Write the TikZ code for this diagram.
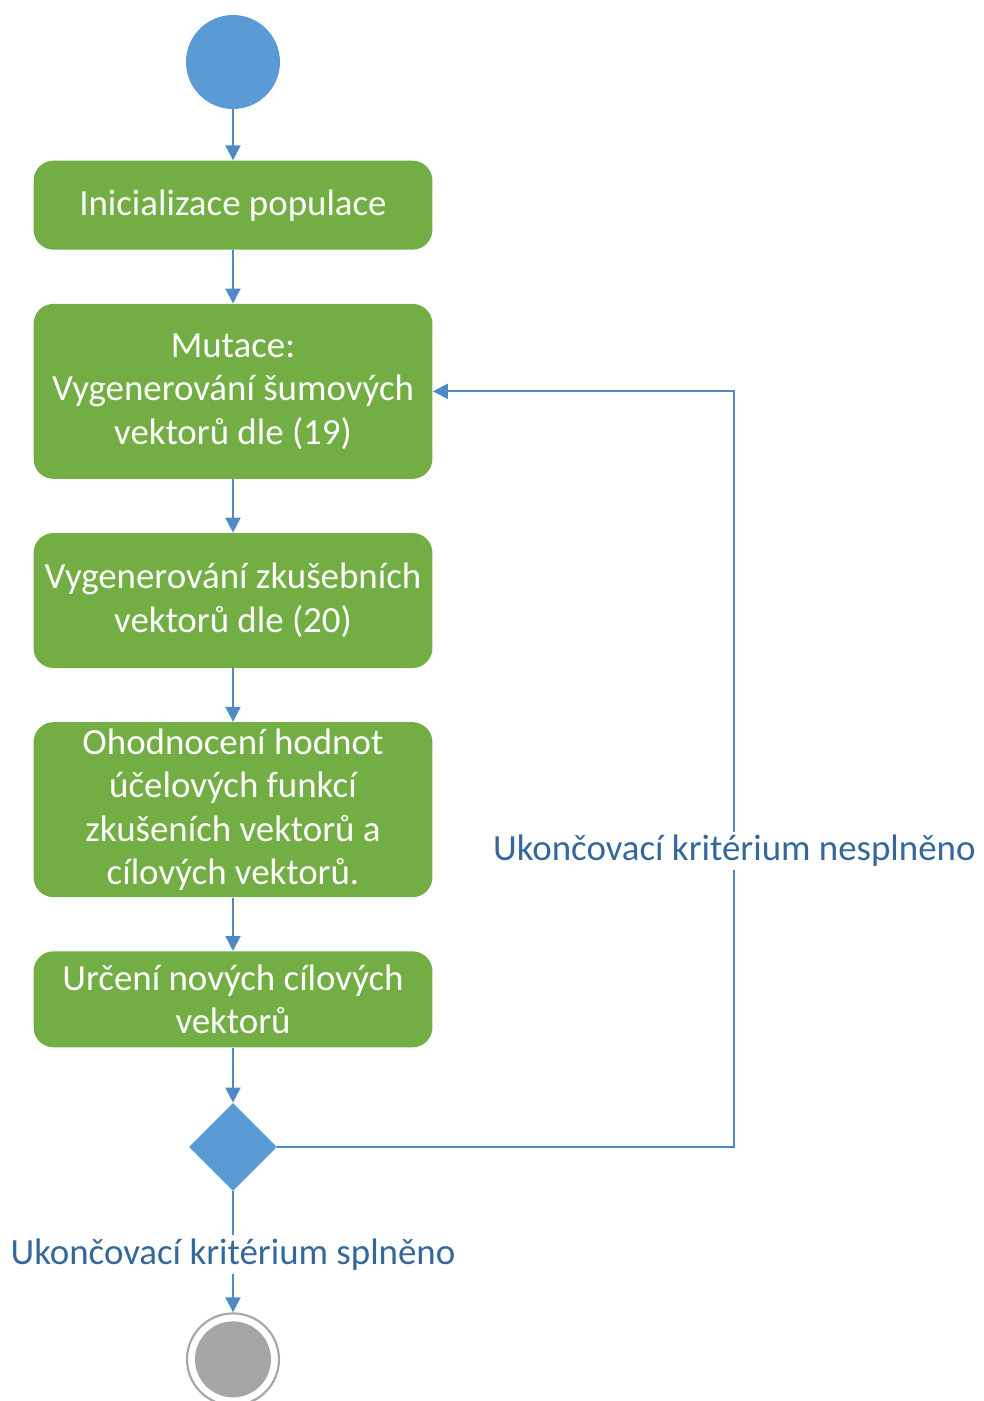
\documentclass[tikz,border=0pt]{standalone}
\usepackage{fontspec}
\setmainfont{Carlito}
\usetikzlibrary{shapes.geometric, positioning, arrows.meta}

\definecolor{actgreen}{RGB}{114,174,67}
\definecolor{actblue}{RGB}{91,155,213}
\definecolor{linkblue}{RGB}{79,138,198}
\definecolor{labelblue}{RGB}{52,103,156}
\definecolor{endgray}{RGB}{166,166,166}

\tikzset{
  activity/.style={rectangle, rounded corners=0.4cm, fill=actgreen, text=white,
    minimum width=7.98cm, align=center, inner sep=2pt,
    font=\fontsize{21}{24.8}\selectfont},
  flow/.style={draw=linkblue, line width=1.1pt,
    -{Triangle[length=0.3cm, width=0.3cm]}},
  guard/.style={fill=white, text=labelblue, inner sep=2pt,
    font=\fontsize{21}{24.8}\selectfont}
}

\begin{document}
\begin{tikzpicture}[x=0.02cm, y=-0.02cm]
    \useasboundingbox (0,0) rectangle (984,1401);

    \node[circle, fill=actblue, minimum size=1.88cm, inner sep=0pt] (start) at (233,62) {};
    \node[activity, minimum height=1.78cm, below=1.02cm of start] (init) {Inicializace populace};
    \node[activity, minimum height=3.5cm, below=1.07cm of init] (mut)
      {Mutace:\\Vygenerování šumových\\vektorů dle (19)};
    \node[activity, minimum height=2.7cm, below=1.07cm of mut] (trial)
      {Vygenerování zkušebních\\vektorů dle (20)};
    \node[activity, minimum height=3.5cm, below=1.07cm of trial] (eval)
      {Ohodnocení hodnot\\účelových funkcí\\zkušeních vektorů a\\cílových vektorů.};
    \node[activity, minimum height=1.92cm, below=1.07cm of eval] (select)
      {Určení nových cílových\\vektorů};
    \node[diamond, aspect=1, fill=actblue, minimum size=1.76cm, inner sep=0pt,
      below=1.1cm of select] (dec) {};
    \node[circle, draw=endgray, line width=1.2pt, minimum size=1.84cm, inner sep=0pt,
      below=2.42cm of dec,
      path picture={\fill[endgray] (path picture bounding box.center) circle (0.76cm);}] (final) {};

    % control flow
    \draw[flow] (start) -- (init);
    \draw[flow] (init) -- (mut);
    \draw[flow] (mut) -- (trial);
    \draw[flow] (trial) -- (eval);
    \draw[flow] (eval) -- (select);
    \draw[flow] (select) -- (dec);
    \draw[flow] (dec) -- node[guard, pos=0.52] (done) {Ukončovací kritérium splněno} (final);
    \draw[flow] (dec.east) -- ++(457,0) coordinate (back)
      |- node[guard, pos=0.196] (again) {Ukončovací kritérium nesplněno} (mut.east);
\end{tikzpicture}
\end{document}
